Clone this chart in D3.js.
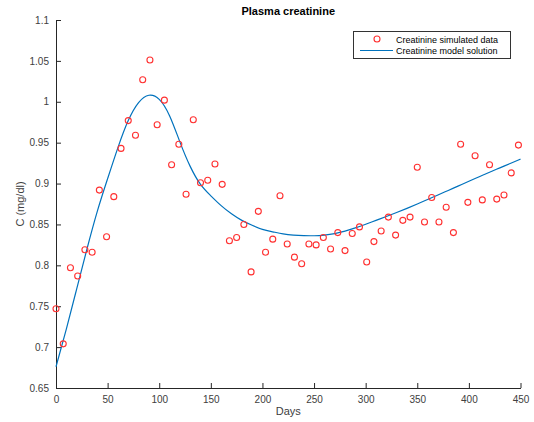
<!DOCTYPE html>
<html>
<head>
<meta charset="utf-8">
<script src="https://cdn.jsdelivr.net/npm/d3@7"></script>
<style>
  html, body { margin: 0; padding: 0; background: #fff; }
  svg { display: block; font-family: "Liberation Sans", Arial, Helvetica, sans-serif; }
</style>
</head>
<body>
<svg id="chart" width="534" height="422"></svg>
<script>
// Simulated creatinine measurements, one every 7 days
const sampleDays = d3.range(0, 449, 7);
const sampleValues = [
  0.747, 0.704, 0.797, 0.787, 0.819, 0.816, 0.892, 0.835, 0.884, 0.943,
  0.977, 0.959, 1.027, 1.051, 0.972, 1.002, 0.923, 0.948, 0.887, 0.978,
  0.901, 0.904, 0.924, 0.899, 0.830, 0.834, 0.850, 0.792, 0.866, 0.816,
  0.832, 0.885, 0.826, 0.810, 0.802, 0.826, 0.825, 0.834, 0.820, 0.840,
  0.818, 0.839, 0.847, 0.804, 0.829, 0.842, 0.859, 0.837, 0.855, 0.859,
  0.920, 0.853, 0.883, 0.853, 0.871, 0.840, 0.948, 0.877, 0.934, 0.880,
  0.923, 0.881, 0.886, 0.913, 0.947
];

// Model solution sampled every 10 days
const modelDays = d3.range(0, 451, 10);
const modelValues = [
  0.676, 0.722, 0.771, 0.820, 0.866, 0.906, 0.944, 0.977, 0.999, 1.008,
  1.003, 0.983, 0.951, 0.921, 0.899, 0.885, 0.873, 0.863, 0.855, 0.849,
  0.844, 0.841, 0.8385, 0.837, 0.8363, 0.8362, 0.837, 0.8388, 0.8418, 0.8458,
  0.8503, 0.855, 0.8597, 0.8646, 0.8697, 0.875, 0.8805, 0.886, 0.8916, 0.8972,
  0.9028, 0.9083, 0.9138, 0.9192, 0.9246, 0.9299
];

const xTicks = [0, 50, 100, 150, 200, 250, 300, 350, 400, 450];
const yTicks = [0.65, 0.7, 0.75, 0.8, 0.85, 0.9, 0.95, 1, 1.05, 1.1];
const yTickLabels = ["0.65", "0.7", "0.75", "0.8", "0.85", "0.9", "0.95", "1", "1.05", "1.1"];

const margin = { left: 56, right: 14, top: 20, bottom: 34 };
const W = 534, H = 422;
const svg = d3.select("#chart");

const x = d3.scaleLinear().domain([0, 450]).range([margin.left, W - margin.right + 0.5]);
const y = d3.scaleLinear().domain([0.65, 1.1]).range([H - margin.bottom, margin.top]);

const axisColor = "#262626";
const textColor = "#404040";

// Axes with inward ticks
const gx = svg.append("g")
  .attr("transform", `translate(0,${y(0.65)})`)
  .call(d3.axisBottom(x).tickValues(xTicks).tickSizeInner(-5).tickSizeOuter(0).tickPadding(8));
const gy = svg.append("g")
  .attr("transform", `translate(${x(0)},0)`)
  .call(d3.axisLeft(y).tickValues(yTicks).tickFormat((d, i) => yTickLabels[i]).tickSizeInner(-5).tickSizeOuter(0).tickPadding(7));

[gx, gy].forEach(g => {
  g.select(".domain").attr("stroke", axisColor).attr("stroke-width", 1);
  g.selectAll(".tick line").attr("stroke", axisColor).attr("stroke-width", 1);
  g.selectAll(".tick text").attr("fill", textColor).style("font-size", "10px");
});

// Model curve
const line = d3.line()
  .x((d, i) => x(modelDays[i]))
  .y(d => y(d))
  .curve(d3.curveNatural);
svg.append("path")
  .datum(modelValues)
  .attr("fill", "none")
  .attr("stroke", "#0072bd")
  .attr("stroke-width", 1.2)
  .attr("d", line);

// Simulated data markers
svg.append("g").selectAll("circle")
  .data(sampleValues)
  .join("circle")
  .attr("cx", (d, i) => x(sampleDays[i]))
  .attr("cy", d => y(d))
  .attr("r", 3)
  .attr("fill", "none")
  .attr("stroke", "#ff3030")
  .attr("stroke-width", 1.1);

// Title and axis labels
svg.append("text")
  .attr("x", (x(0) + x(450)) / 2).attr("y", 15)
  .attr("text-anchor", "middle")
  .style("font-size", "11px").style("font-weight", "bold")
  .attr("fill", "#000")
  .text("Plasma creatinine");

svg.append("text")
  .attr("x", (x(0) + x(450)) / 2).attr("y", 415)
  .attr("text-anchor", "middle")
  .style("font-size", "11px")
  .attr("fill", textColor)
  .text("Days");

svg.append("text")
  .attr("transform", `translate(24,${(y(0.65) + y(1.1)) / 2}) rotate(-90)`)
  .attr("text-anchor", "middle")
  .style("font-size", "11px")
  .attr("fill", textColor)
  .text("C (mg/dl)");

// Legend
const lg = svg.append("g");
lg.append("rect")
  .attr("x", 353.5).attr("y", 31.5).attr("width", 157).attr("height", 27)
  .attr("fill", "#fff").attr("stroke", "#333").attr("stroke-width", 1);
lg.append("circle")
  .attr("cx", 377).attr("cy", 39).attr("r", 3)
  .attr("fill", "none").attr("stroke", "#ff3030").attr("stroke-width", 1.1);
lg.append("line")
  .attr("x1", 360).attr("x2", 393).attr("y1", 50.5).attr("y2", 50.5)
  .attr("stroke", "#0072bd").attr("stroke-width", 1.2);
lg.selectAll("text")
  .data(["Creatinine simulated data", "Creatinine model solution"])
  .join("text")
  .attr("x", 396).attr("y", (d, i) => 42.5 + i * 11.5)
  .style("font-size", "9px")
  .attr("fill", "#000")
  .text(d => d);
</script>
</body>
</html>
